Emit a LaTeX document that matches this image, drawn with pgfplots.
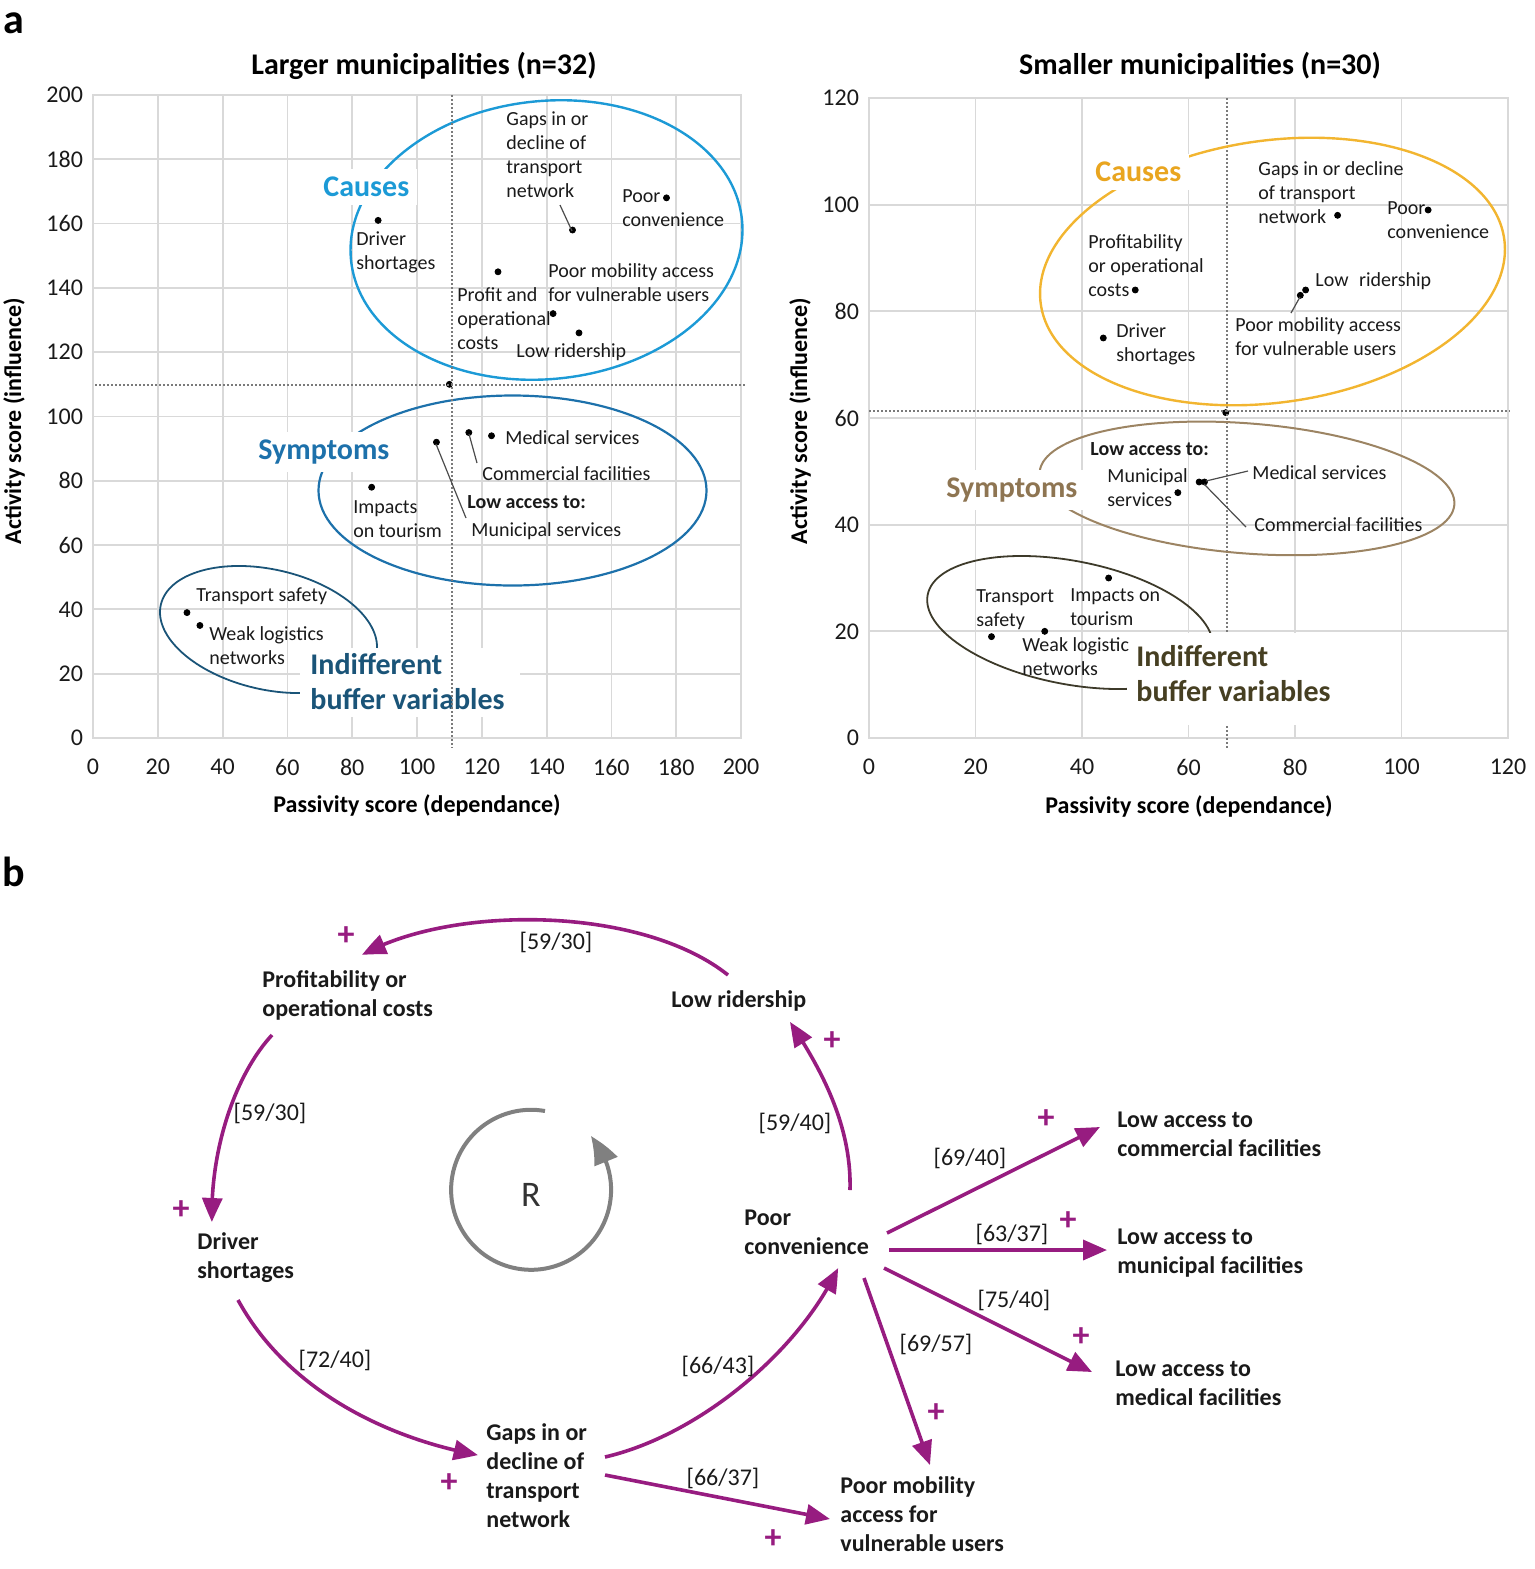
\documentclass[border=0pt]{standalone}
\usepackage{fontspec}
\setmainfont{Carlito}
\usepackage{pgfplots}
\pgfplotsset{compat=1.18}
\usetikzlibrary{shapes.geometric,arrows.meta,bending}

\definecolor{gridgray}{HTML}{D9D9D9}
\definecolor{txt}{HTML}{1A1A1A}
\definecolor{dotgray}{HTML}{7A7A7A}
\definecolor{cblue}{HTML}{1C9AD6}
\definecolor{sblue}{HTML}{1D71AB}
\definecolor{iblue}{HTML}{1A5478}
\definecolor{cgold}{HTML}{F2B530}
\definecolor{cgoldtxt}{HTML}{E9A51F}
\definecolor{sbrown}{HTML}{9C8463}
\definecolor{sbrowntxt}{HTML}{8E7552}
\definecolor{iolive}{HTML}{3D3A2A}
\definecolor{iolivetxt}{HTML}{463F22}
\definecolor{loop}{HTML}{971C80}
\definecolor{loopgray}{HTML}{808080}

\newcommand{\fA}{\fontsize{10}{12}\selectfont}
\newcommand{\fE}{\fontsize{12}{14.5}\selectfont}
\newcommand{\fN}{\fontsize{12}{14.5}\selectfont\bfseries}
\newcommand{\fC}{\fontsize{15}{17.5}\selectfont\bfseries}

\pgfplotsset{
  matrixplot/.style={
    scale only axis, anchor=south west,
    grid=major, grid style={draw=gridgray, line width=0.9pt},
    axis line style={draw=gridgray, line width=0.9pt},
    major tick length=0pt,
    tick label style={font=\fontsize{12}{14}\selectfont, text=txt},
    xticklabel style={yshift=-7pt},
    yticklabel style={xshift=-1.5pt},
    /pgf/number format/assume math mode=true,
    clip=false,
  },
}

\begin{document}
\begin{tikzpicture}[
  lab/.style={anchor=west, align=left, inner sep=0pt, font=\fA, text=txt},
  cat/.style={anchor=west, align=left, inner sep=0pt, font=\fC},
  node/.style={anchor=west, align=left, inner sep=0pt, font=\fN, text=txt},
  edge/.style={inner sep=0pt, font=\fE, text=txt},
  plus/.style={inner sep=0pt, font=\fontsize{17}{17}\selectfont\bfseries, text=loop},
  lead/.style={draw=black!70, line width=0.6pt},
  thr/.style={draw=dotgray, line width=1pt, dash pattern=on 0.8pt off 1.2pt},
  arr/.style={draw=loop, line width=1.8pt, -{Triangle[length=12pt,width=10pt,bend]}},
]

% larger municipalities
\begin{axis}[matrixplot, at={(46.5pt,415.5pt)}, width=324pt, height=321.5pt,
  xmin=0, xmax=200, ymin=0, ymax=200,
  xtick={0,20,...,200}, ytick={0,20,...,200}]
\addplot[only marks, mark=*, mark size=1.5pt, black] coordinates {
  (88,161) (148,158) (177,168) (125,145) (142,132) (150,126) (110,110)
  (123,94) (116,95) (106,92) (86,78) (29,39) (33,35)};
\end{axis}

% smaller municipalities
\begin{axis}[matrixplot, at={(434.5pt,415.5pt)}, width=319.5pt, height=320pt,
  xmin=0, xmax=120, ymin=0, ymax=120,
  xtick={0,20,...,120}, ytick={0,20,...,120}]
\addplot[only marks, mark=*, mark size=1.5pt, black] coordinates {
  (88,98) (105,99) (50,84) (82,84) (81,83) (44,75) (67,61)
  (63,48) (62,48) (58,46) (45,30) (23,19) (33,20)};
\end{axis}

% annotations and panel b, in pixel units of the figure
\begin{axis}[at={(0pt,0pt)}, anchor=south west, scale only axis,
  width=767.5pt, height=784.5pt, xmin=0, xmax=1535, ymin=0, ymax=1569,
  y dir=reverse, hide axis, clip=false]
\path (axis cs:0,0) rectangle (axis cs:1535,1569);

% panel letters, titles, axis labels
\node[inner sep=0pt, font=\fontsize{21}{21}\selectfont\bfseries] at (axis cs:14,23) {a};
\node[inner sep=0pt, font=\fontsize{21}{21}\selectfont\bfseries] at (axis cs:14,872) {b};
\node[inner sep=0pt, font=\fontsize{15}{18}\selectfont\bfseries] at (axis cs:424,66) {Larger municipalities (n=32)};
\node[inner sep=0pt, font=\fontsize{15}{18}\selectfont\bfseries] at (axis cs:1200,66) {Smaller municipalities (n=30)};
\node[inner sep=0pt, font=\fN] at (axis cs:417,805) {Passivity score (dependance)};
\node[inner sep=0pt, font=\fN] at (axis cs:1189,806) {Passivity score (dependance)};
\node[inner sep=0pt, font=\fN, rotate=90] at (axis cs:14,421) {Activity score (influence)};
\node[inner sep=0pt, font=\fN, rotate=90] at (axis cs:800,421) {Activity score (influence)};

% right threshold lines (the vertical one runs under the label box)
\draw[thr] (axis cs:1227,98) -- (axis cs:1227,748);
\draw[thr] (axis cs:869,411) -- (axis cs:1510,411);

% groups
\node[draw=cblue, line width=1.2pt, ellipse, inner sep=0pt, minimum width=196.5pt, minimum height=139pt, rotate=6] at (axis cs:546.5,240) {};
\node[draw=sblue, line width=1.1pt, ellipse, inner sep=0pt, minimum width=194pt, minimum height=95pt] at (axis cs:512.5,490.5) {};
\node[draw=iblue, line width=0.9pt, ellipse, inner sep=0pt, minimum width=110.5pt, minimum height=60pt, rotate=-13] at (axis cs:268.5,629.5) {};
\node[draw=cgold, line width=1.2pt, ellipse, inner sep=0pt, minimum width=234pt, minimum height=131pt, rotate=8] at (axis cs:1272.5,271.5) {};
\node[draw=sbrown, line width=1pt, ellipse, inner sep=0pt, minimum width=208pt, minimum height=65pt, rotate=-4.5] at (axis cs:1247,488.4) {};
\node[draw=iolive, line width=0.9pt, ellipse, inner sep=0pt, minimum width=145pt, minimum height=61.6pt, rotate=-11] at (axis cs:1070,622.5) {};

\fill[white] (axis cs:300,648) rectangle (axis cs:520,717);
\fill[white] (axis cs:1127,633) rectangle (axis cs:1378,725);

\node[cat, text=cblue, fill=white, inner xsep=4pt, inner ysep=4pt] at (axis cs:315,187) {Causes};
\node[cat, text=sblue, fill=white, inner xsep=4pt, inner ysep=4pt] at (axis cs:250,452) {Symptoms};
\node[cat, text=iblue] at (axis cs:310,681.5) {Indifferent\\buffer variables};
\node[cat, text=cgoldtxt, fill=white, inner xsep=4pt, inner ysep=4pt] at (axis cs:1087,172) {Causes};
\node[cat, text=sbrowntxt, fill=white, inner xsep=4pt, inner ysep=4pt] at (axis cs:938,490) {Symptoms};
\node[cat, text=iolivetxt] at (axis cs:1136,673.5) {Indifferent\\buffer variables};

% left threshold lines
\draw[thr] (axis cs:95,385) -- (axis cs:745,385);
\draw[thr] (axis cs:452,95) -- (axis cs:452,748);

% labels, larger municipalities
\node[lab] at (axis cs:506,155) {Gaps in or\\decline of\\transport\\network};
\node[lab] at (axis cs:622,208) {Poor\\convenience};
\node[lab] at (axis cs:356,252) {Driver\\shortages};
\node[lab] at (axis cs:548,283) {Poor mobility access\\for vulnerable users};
\node[lab] at (axis cs:457,319) {Profit and\\operational\\costs};
\node[lab] at (axis cs:516,352) {Low ridership};
\node[lab] at (axis cs:505,438) {Medical services};
\node[lab] at (axis cs:482,474) {Commercial facilities};
\node[lab, font=\fA\bfseries] at (axis cs:467,502) {Low access to:};
\node[lab] at (axis cs:471,531) {Municipal services};
\node[lab] at (axis cs:353,519) {Impacts\\on tourism};
\node[lab] at (axis cs:196,596) {Transport safety};
\node[lab] at (axis cs:209,646) {Weak logistics\\networks};
\draw[lead] (axis cs:560,205) -- (axis cs:572,231);
\draw[lead] (axis cs:469,434) -- (axis cs:477,463);
\draw[lead] (axis cs:436,444) -- (axis cs:466,518);

% labels, smaller municipalities
\node[lab] at (axis cs:1258,193) {Gaps in or decline\\of transport\\network};
\node[lab] at (axis cs:1387,220) {Poor\\convenience};
\node[lab] at (axis cs:1088,266) {Profitability\\or operational\\costs};
\node[lab] at (axis cs:1315,281) {Low\hspace{3pt} ridership};
\node[lab] at (axis cs:1235,337) {Poor mobility access\\for vulnerable users};
\node[lab] at (axis cs:1116,344) {Driver\\shortages};
\node[lab, font=\fA\bfseries] at (axis cs:1090,449) {Low access to:};
\node[lab] at (axis cs:1107,488) {Municipal\\services};
\node[lab] at (axis cs:1252,473) {Medical services};
\node[lab] at (axis cs:1254,525) {Commercial facilities};
\node[lab] at (axis cs:976,609.5) {Transport\\safety};
\node[lab] at (axis cs:1070,607) {Impacts on\\tourism};
\node[lab] at (axis cs:1022,656.5) {Weak logistic\\networks};
\draw[lead] (axis cs:1300,297) -- (axis cs:1291,313);
\draw[lead] (axis cs:1206,481) -- (axis cs:1248,471);
\draw[lead] (axis cs:1204,484) -- (axis cs:1246,527);

% panel b: causal loop
\draw[arr] (axis cs:728,975) .. controls (axis cs:640,905) and (axis cs:450,905) .. (axis cs:362,955);
\draw[arr] (axis cs:272,1035) .. controls (axis cs:235,1075) and (axis cs:210,1150) .. (axis cs:212,1222);
\draw[arr] (axis cs:238,1300) .. controls (axis cs:290,1395) and (axis cs:395,1440) .. (axis cs:478,1455);
\draw[arr] (axis cs:605,1457) .. controls (axis cs:700,1435) and (axis cs:800,1350) .. (axis cs:838,1268);
\draw[arr] (axis cs:850,1190) .. controls (axis cs:852,1120) and (axis cs:815,1060) .. (axis cs:790,1022);
\draw[arr] (axis cs:887,1233) -- (axis cs:1100,1127);
\draw[arr] (axis cs:889,1250) -- (axis cs:1107,1250);
\draw[arr] (axis cs:884,1268) -- (axis cs:1092,1372);
\draw[arr] (axis cs:864,1278) -- (axis cs:930,1465);
\draw[arr] (axis cs:605,1475) -- (axis cs:830,1519);

\draw[draw=loopgray, line width=2pt, -{Triangle[length=15pt,width=12pt,bend]}]
  (axis cs:545,1111) arc[start angle=80, end angle=402, radius=40pt];
\node[inner sep=0pt, font=\fontsize{18}{18}\selectfont, text=black!80] at (axis cs:531,1195) {R};

\node[node] at (axis cs:262,995.5) {Profitability or\\operational costs};
\node[node] at (axis cs:671,1001) {Low ridership};
\node[node] at (axis cs:197,1257.5) {Driver\\shortages};
\node[node] at (axis cs:744,1232.5) {Poor\\convenience};
\node[node] at (axis cs:486,1475.5) {Gaps in or\\decline of\\transport\\network};
\node[node] at (axis cs:840,1514.5) {Poor mobility\\access for\\vulnerable users};
\node[node] at (axis cs:1117,1134) {Low access to\\commercial facilities};
\node[node] at (axis cs:1117,1253.5) {Low access to\\municipal facilities};
\node[node] at (axis cs:1115,1383.5) {Low access to\\medical facilities};

\node[edge] at (axis cs:556,942) {[59/30]};
\node[edge] at (axis cs:270,1113) {[59/30]};
\node[edge] at (axis cs:795,1123) {[59/40]};
\node[edge] at (axis cs:970,1158) {[69/40]};
\node[edge] at (axis cs:1012,1234) {[63/37]};
\node[edge] at (axis cs:1014,1300) {[75/40]};
\node[edge] at (axis cs:936,1344) {[69/57]};
\node[edge] at (axis cs:335,1360) {[72/40]};
\node[edge] at (axis cs:718,1366) {[66/43]};
\node[edge] at (axis cs:723,1478) {[66/37]};

\node[plus] at (axis cs:346,936) {+};
\node[plus] at (axis cs:832,1041) {+};
\node[plus] at (axis cs:181,1210) {+};
\node[plus] at (axis cs:1046,1119) {+};
\node[plus] at (axis cs:1068,1221) {+};
\node[plus] at (axis cs:1081,1337) {+};
\node[plus] at (axis cs:936,1413) {+};
\node[plus] at (axis cs:449,1483) {+};
\node[plus] at (axis cs:773,1539) {+};
\end{axis}
\end{tikzpicture}
\end{document}
